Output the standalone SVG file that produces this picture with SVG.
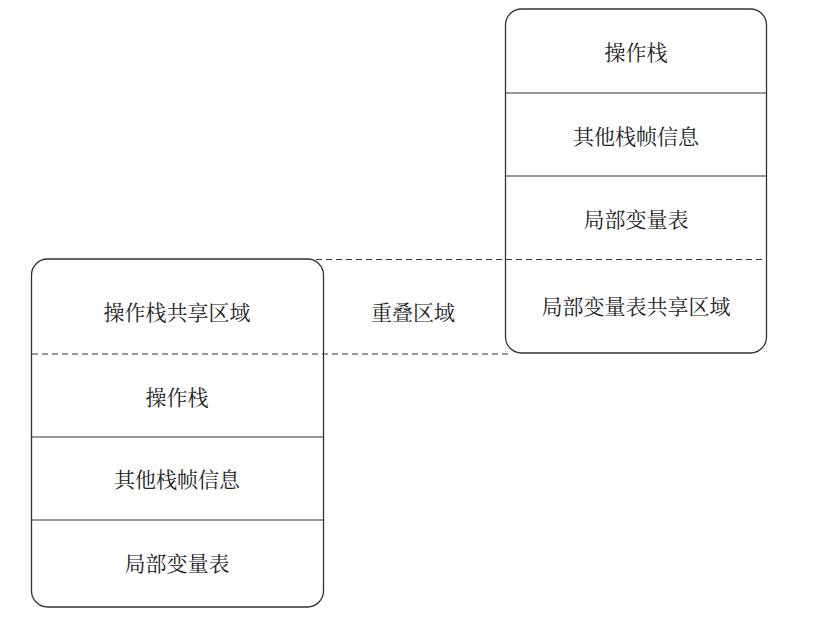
<svg xmlns="http://www.w3.org/2000/svg" width="820" height="625" viewBox="0 0 820 625">
<style>
.box{fill:#fff;stroke:#333;stroke-width:1.3}
.sep{stroke:#333;stroke-width:1.2}
.dash{stroke:#333;stroke-width:1.1;stroke-dasharray:6 4;fill:none}
text{font-family:"Noto Serif CJK SC","Noto Sans CJK SC",serif;font-size:21px;fill:#222;text-anchor:middle;dominant-baseline:central}
</style>
<rect width="820" height="625" fill="#fff"/>
<g id="right-frame">
<rect class="box" x="505.5" y="9" width="261" height="344" rx="16"/>
<line class="sep" x1="505.5" y1="93" x2="766.5" y2="93"/>
<line class="sep" x1="505.5" y1="176" x2="766.5" y2="176"/>
<text x="636" y="51">操作栈</text>
<text x="636" y="135">其他栈帧信息</text>
<text x="636" y="218">局部变量表</text>
<text x="636" y="305">局部变量表共享区域</text>
</g>
<g id="left-frame">
<rect class="box" x="31.5" y="259" width="292" height="348" rx="16"/>
<line class="sep" x1="31.5" y1="437" x2="323.5" y2="437"/>
<line class="sep" x1="31.5" y1="520" x2="323.5" y2="520"/>
<text x="177" y="311">操作栈共享区域</text>
<text x="177" y="396">操作栈</text>
<text x="177" y="478">其他栈帧信息</text>
<text x="177" y="562">局部变量表</text>
</g>
<g id="overlap">
<text x="413" y="311">重叠区域</text>
</g>
<g id="connectors">
<line class="dash" x1="316" y1="259.5" x2="766" y2="259.5"/>
<line class="dash" x1="32" y1="354" x2="512" y2="354"/>
</g>
</svg>
